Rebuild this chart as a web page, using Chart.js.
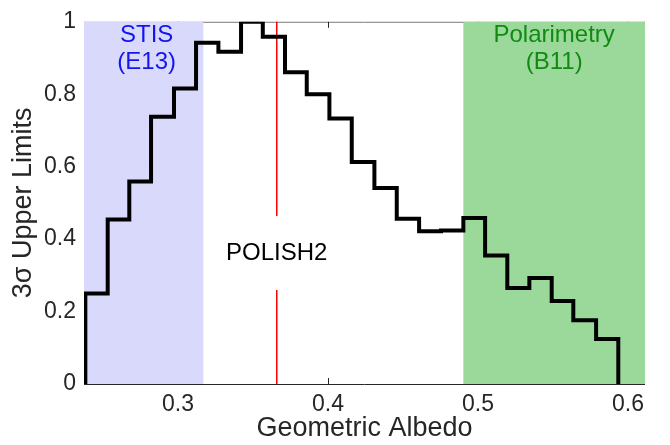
<!DOCTYPE html>
<html>
<head>
<meta charset="utf-8">
<script src="https://cdn.jsdelivr.net/npm/chart.js@4/dist/chart.umd.min.js"></script>
<style>
  html, body { margin: 0; padding: 0; background: #fff; }
  #wrap { width: 670px; height: 445px; }
</style>
</head>
<body>
<div id="wrap"><canvas id="c" width="670" height="445"></canvas></div>
<script>
// Bin edges (geometric albedo) and 3-sigma upper limits per bin
const binEdges = [0.2382, 0.2531, 0.2675, 0.2820, 0.2973, 0.3120, 0.3269, 0.3420, 0.3565,
                  0.3713, 0.3858, 0.4009, 0.4158, 0.4309, 0.4458, 0.4607, 0.4753, 0.4902,
                  0.5047, 0.5195, 0.5342, 0.5491, 0.5635, 0.5787, 0.5935];
const upperLimits = [0.250, 0.454, 0.559, 0.738, 0.816, 0.942, 0.917, 1.000, 0.959, 0.861,
                     0.800, 0.733, 0.613, 0.541, 0.456, 0.422, 0.424, 0.458, 0.355, 0.265,
                     0.293, 0.229, 0.176, 0.124];
const xTicks = [0.3, 0.4, 0.5, 0.6];
const yTicks = [0, 0.2, 0.4, 0.6, 0.8, 1];
const xRange = [0.2373, 0.6113];
const stisRange = [0.2373, 0.3169];
const polRange = [0.4902, 0.6113];
const polishAlbedo = 0.3658;

const FONT = '"Liberation Sans", Arial, Helvetica, sans-serif';

// Build step points
const pts = [{x: binEdges[0], y: 0}];
for (let i = 0; i < upperLimits.length; i++) pts.push({x: binEdges[i], y: upperLimits[i]});
pts.push({x: binEdges[binEdges.length - 1], y: upperLimits[upperLimits.length - 1]});
pts.push({x: binEdges[binEdges.length - 1], y: 0});

const decor = {
  id: 'decor',
  beforeDatasetsDraw(chart) {
    const {ctx, chartArea: a, scales: {x, y}} = chart;
    ctx.save();
    // box
    ctx.strokeStyle = '#262626';
    ctx.lineWidth = 1;
    ctx.beginPath();
    ctx.moveTo(a.left, a.bottom + 0.5); ctx.lineTo(a.right, a.bottom + 0.5);
    ctx.stroke();
    ctx.strokeStyle = '#7a7a7a';
    ctx.beginPath();
    ctx.moveTo(a.left, a.top + 0.5); ctx.lineTo(a.right, a.top + 0.5);
    ctx.moveTo(a.left + 0.5, a.top); ctx.lineTo(a.left + 0.5, a.bottom);
    ctx.moveTo(a.right - 0.5, a.top); ctx.lineTo(a.right - 0.5, a.bottom);
    ctx.stroke();
    // inward ticks
    ctx.strokeStyle = '#262626';
    ctx.beginPath();
    xTicks.forEach(v => {
      const px = Math.round(x.getPixelForValue(v)) + 0.5;
      ctx.moveTo(px, a.bottom); ctx.lineTo(px, a.bottom - 6);
      ctx.moveTo(px, a.top); ctx.lineTo(px, a.top + 6);
    });
    yTicks.forEach(v => {
      const py = Math.round(y.getPixelForValue(v)) + 0.5;
      ctx.moveTo(a.left, py); ctx.lineTo(a.left + 6, py);
      ctx.moveTo(a.right, py); ctx.lineTo(a.right - 6, py);
    });
    ctx.stroke();
    // shaded regions
    const yT = y.getPixelForValue(1), yB = y.getPixelForValue(0);
    const s0 = x.getPixelForValue(stisRange[0]), s1 = x.getPixelForValue(stisRange[1]);
    ctx.fillStyle = '#d9d9fc';
    ctx.fillRect(s0, yT, s1 - s0, yB - yT);
    const p0 = x.getPixelForValue(polRange[0]), p1 = x.getPixelForValue(polRange[1]);
    ctx.fillStyle = '#9bd99b';
    ctx.fillRect(p0, yT, p1 - p0, yB - yT);
    // red line with gap
    const rx = x.getPixelForValue(polishAlbedo);
    ctx.strokeStyle = '#ff0000';
    ctx.lineWidth = 1.5;
    ctx.beginPath();
    ctx.moveTo(rx, yT); ctx.lineTo(rx, 216);
    ctx.moveTo(rx, 290); ctx.lineTo(rx, yB);
    ctx.stroke();
    // texts
    ctx.font = '24px ' + FONT;
    ctx.textAlign = 'center';
    ctx.textBaseline = 'middle';
    ctx.fillStyle = '#1414ee';
    const sc = (s0 + s1) / 2 + 3;
    ctx.fillText('STIS', sc, 35);
    ctx.fillText('(E13)', sc, 62);
    ctx.fillStyle = '#118a11';
    const pc = (p0 + p1) / 2;
    ctx.fillText('Polarimetry', pc, 35);
    ctx.fillText('(B11)', pc, 62);
    ctx.fillStyle = '#000000';
    ctx.fillText('POLISH2', rx, 253);
    ctx.restore();
  }
};

new Chart(document.getElementById('c'), {
  type: 'line',
  data: {
    datasets: [{
      data: pts,
      stepped: 'before',
      borderColor: '#000000',
      borderWidth: 4,
      pointRadius: 0,
      fill: false,
      tension: 0
    }]
  },
  options: {
    responsive: false,
    animation: false,
    devicePixelRatio: 1,
    layout: { padding: { left: 0, right: 25, top: 10, bottom: 0 } },
    plugins: { legend: { display: false }, tooltip: { enabled: false } },
    scales: {
      x: {
        type: 'linear',
        min: xRange[0], max: xRange[1],
        grid: { display: false, drawTicks: false },
        border: { display: false },
        afterBuildTicks: s => { s.ticks = xTicks.map(v => ({value: v})); },
        afterFit: s => { s.height = 61; },
        ticks: {
          padding: 7,
          color: '#262626',
          font: { family: FONT, size: 23 },
          maxRotation: 0,
          callback: v => String(Number(v.toFixed(2)))
        },
        title: {
          display: true, text: 'Geometric Albedo', color: '#262626',
          font: { family: FONT, size: 27, lineHeight: 1 },
          padding: { top: 0, bottom: 3 }
        }
      },
      y: {
        type: 'linear',
        min: 0, max: 1,
        grid: { display: false, drawTicks: false },
        border: { display: false },
        afterBuildTicks: s => { s.ticks = yTicks.map(v => ({value: v})); },
        afterFit: s => { s.width = 84; },
        ticks: {
          padding: 8,
          color: '#262626',
          font: { family: FONT, size: 23 },
          callback: v => String(Number(v.toFixed(2)))
        },
        title: {
          display: true, text: '3σ Upper Limits', color: '#262626',
          font: { family: FONT, size: 27, lineHeight: 1 },
          padding: { top: 10, bottom: 0 }
        }
      }
    }
  },
  plugins: [decor]
});
</script>
</body>
</html>
